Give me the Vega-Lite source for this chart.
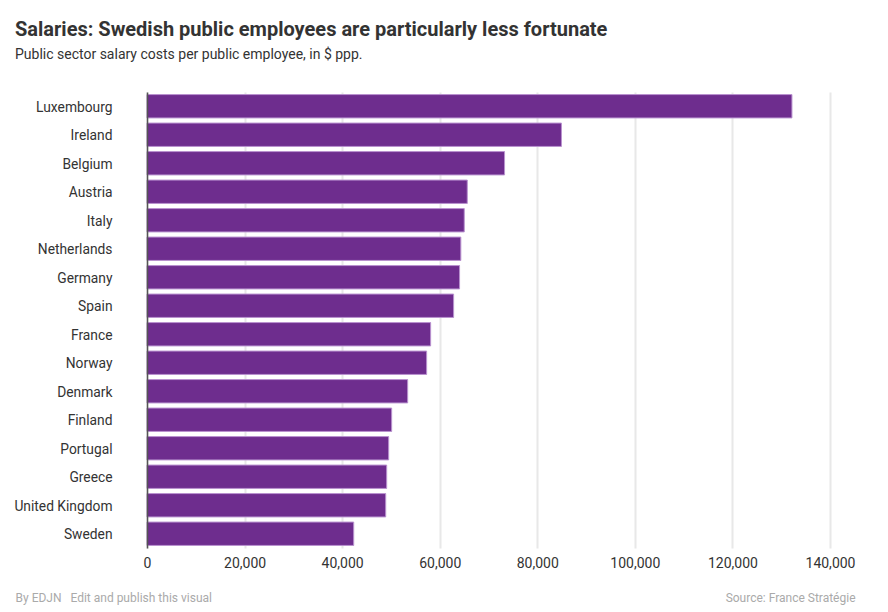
{
  "$schema": "https://vega.github.io/schema/vega-lite/v6.json",
  "width": 683,
  "height": 456,
  "autosize": {"type": "none"},
  "padding": {"left": 147, "top": 92, "right": 58, "bottom": 64},
  "background": "white",
  "title": {
    "text": "Salaries: Swedish public employees are particularly less fortunate",
    "subtitle": "Public sector salary costs per public employee, in $ ppp.",
    "anchor": "start",
    "frame": "group",
    "dx": -132,
    "offset": 30,
    "font": "Roboto",
    "fontSize": 20,
    "fontWeight": "bold",
    "color": "#333333",
    "subtitleFont": "Roboto",
    "subtitleFontSize": 14,
    "subtitleColor": "#333333",
    "subtitlePadding": 8
  },
  "data": {
    "values": [
      {"country": "Luxembourg", "salary": 132200},
      {"country": "Ireland", "salary": 84950},
      {"country": "Belgium", "salary": 73290},
      {"country": "Austria", "salary": 65650},
      {"country": "Italy", "salary": 65030},
      {"country": "Netherlands", "salary": 64330},
      {"country": "Germany", "salary": 64070},
      {"country": "Spain", "salary": 62850},
      {"country": "France", "salary": 58140},
      {"country": "Norway", "salary": 57320},
      {"country": "Denmark", "salary": 53430},
      {"country": "Finland", "salary": 50150},
      {"country": "Portugal", "salary": 49540},
      {"country": "Greece", "salary": 49130},
      {"country": "United Kingdom", "salary": 48930},
      {"country": "Sweden", "salary": 42370}
    ]
  },
  "mark": {"type": "bar", "color": "#6e2d8e", "stroke": "#b992cf", "strokeWidth": 1},
  "encoding": {
    "y": {
      "field": "country",
      "type": "nominal",
      "sort": null,
      "scale": {"paddingInner": 0.18, "paddingOuter": 0.09},
      "axis": {
        "title": "Source: France Stratégie",
        "titleAngle": 0,
        "titleX": 708,
        "titleY": 505,
        "titleAlign": "right",
        "titleBaseline": "middle",
        "titleFont": "Roboto",
        "titleFontSize": 12,
        "titleFontWeight": "normal",
        "titleColor": "#aaaaaa",
        "labelFont": "Roboto",
        "labelFontSize": 13.8,
        "labelColor": "#333333",
        "labelPadding": 35,
        "labelOffset": 1.5,
        "ticks": false,
        "grid": false,
        "domain": true,
        "domainColor": "#555555",
        "domainWidth": 1.5,
        "zindex": 1
      }
    },
    "x": {
      "field": "salary",
      "type": "quantitative",
      "scale": {"domain": [0, 140000], "nice": false},
      "axis": {
        "title": "By EDJN\u00a0\u00a0\u00a0Edit and publish this visual",
        "titleX": -132,
        "titleY": 49,
        "titleAlign": "left",
        "titleBaseline": "middle",
        "titleFont": "Roboto",
        "titleFontSize": 12,
        "titleFontWeight": "normal",
        "titleColor": "#aaaaaa",
        "values": [0, 20000, 40000, 60000, 80000, 100000, 120000, 140000],
        "format": ",d",
        "labelFont": "Roboto",
        "labelFontSize": 14,
        "labelColor": "#333333",
        "labelPadding": 8,
        "labelFlush": false,
        "labelBound": false,
        "labelOverlap": false,
        "ticks": false,
        "domain": false,
        "grid": true,
        "gridColor": "#e8e8e8",
        "gridWidth": 2
      }
    }
  },
  "config": {"view": {"stroke": null}}
}
